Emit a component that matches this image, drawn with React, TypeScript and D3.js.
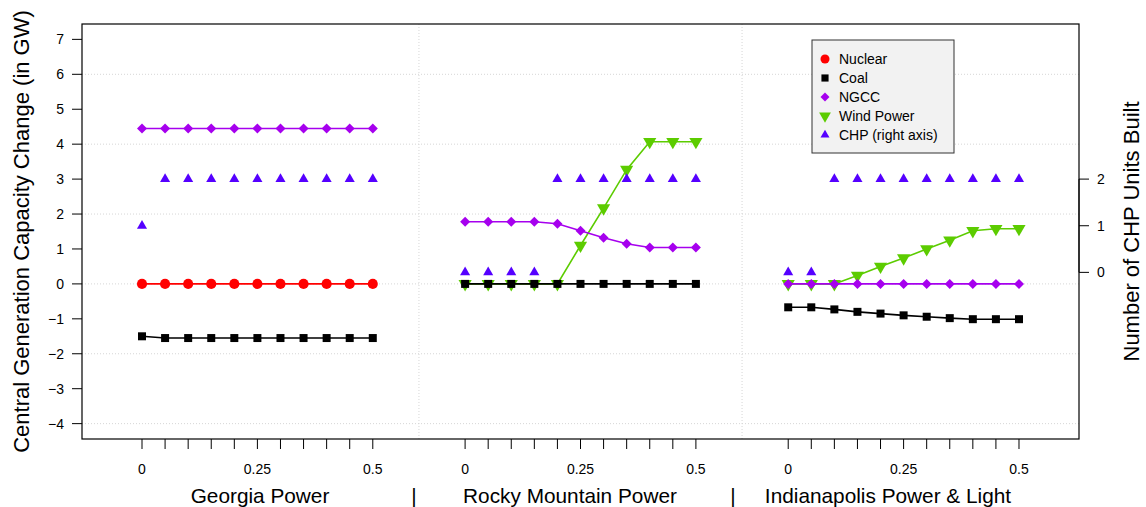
import { useMemo } from "react";
import * as d3 from "d3";

// chart data
const panels = ["Georgia Power", "Rocky Mountain Power", "Indianapolis Power & Light"];
const steps = [0, 0.05, 0.1, 0.15, 0.2, 0.25, 0.3, 0.35, 0.4, 0.45, 0.5];
const stepLabels = ["0", "0.25", "0.5"];
const leftTicks = [-4, -3, -2, -1, 0, 1, 2, 3, 4, 5, 6, 7];
const gridTicks = [-4, -2, 0, 2, 4, 6];
const rightTicks = [0, 1, 2];

const nuclear = [
  [0, 0, 0, 0, 0, 0, 0, 0, 0, 0, 0],
  null,
  null,
];
const coal = [
  [-1.5, -1.55, -1.55, -1.55, -1.55, -1.55, -1.55, -1.55, -1.55, -1.55, -1.55],
  [0, 0, 0, 0, 0, 0, 0, 0, 0, 0, 0],
  [-0.67, -0.67, -0.73, -0.8, -0.85, -0.9, -0.94, -0.98, -1.01, -1.01, -1.01],
];
const ngcc = [
  [4.45, 4.45, 4.45, 4.45, 4.45, 4.45, 4.45, 4.45, 4.45, 4.45, 4.45],
  [1.78, 1.78, 1.78, 1.78, 1.72, 1.52, 1.32, 1.15, 1.04, 1.04, 1.04],
  [0, 0, 0, 0, 0, 0, 0, 0, 0, 0, 0],
];
const wind = [
  null,
  [0, 0, 0, 0, 0, 1.1, 2.17, 3.27, 4.07, 4.07, 4.07],
  [0, 0, 0, 0.24, 0.5, 0.74, 1.0, 1.25, 1.52, 1.58, 1.58],
];
const chp = [
  [1, 2, 2, 2, 2, 2, 2, 2, 2, 2, 2],
  [0, 0, 0, 0, 2, 2, 2, 2, 2, 2, 2],
  [0, 0, 2, 2, 2, 2, 2, 2, 2, 2, 2],
];

const W = 1146;
const H = 507;
const left = 82;
const right = 1079;
const top = 24;
const bottom = 439;
const font = "'Liberation Sans', Arial, sans-serif";

const x = d3.scaleLinear().domain([-1.6, 41.6]).range([left, right]);
const y = d3.scaleLinear().domain([-4.44, 7.44]).range([bottom, top]);
// right axis: CHP units
const yR = d3.scaleLinear().domain([0, 2]).range([y(0.33), y(3)]);

const idx = (p: number, i: number) => p * 14 + i + 1;

const series = [
  { name: "Nuclear", data: nuclear, color: "#ff0000", shape: d3.symbolCircle, size: 80, rot: 0, line: true, right: false, z: 1 },
  { name: "Coal", data: coal, color: "#000000", shape: d3.symbolSquare, size: 64, rot: 0, line: true, right: false, z: 2 },
  { name: "NGCC", data: ngcc, color: "#a600ee", shape: d3.symbolSquare, size: 50, rot: 45, line: true, right: false, z: 3 },
  { name: "Wind Power", data: wind, color: "#5ccc00", shape: d3.symbolTriangle, size: 75, rot: 180, line: true, right: false, z: 0 },
  { name: "CHP (right axis)", data: chp, color: "#5500ff", shape: d3.symbolTriangle, size: 44, rot: 0, line: false, right: true, z: 4 },
];

// label centres for the panel names (one R mtext string in the original)
const panelCentre = [260, 570, 888];
const sepX = [414, 733];

export default function App() {
  const marks = useMemo(() => {
    const out: JSX.Element[] = [];
    [...series].sort((a, b) => a.z - b.z).forEach((s) => {
      const sym = d3.symbol().type(s.shape).size(s.size)() as string;
      const sc = s.right ? yR : y;
      s.data.forEach((vals, p) => {
        if (!vals) return;
        const pts: [number, number][] = vals.map((v, i) => [x(idx(p, i)), sc(v)]);
        if (s.line) {
          out.push(
            <path key={`${s.name}-l-${p}`} d={d3.line()(pts) as string} fill="none" stroke={s.color} strokeWidth={1.6} />
          );
        }
        pts.forEach(([px, py], i) => {
          out.push(
            <path key={`${s.name}-m-${p}-${i}`} d={sym} fill={s.color}
              transform={`translate(${px},${py}) rotate(${s.rot})`} />
          );
        });
      });
    });
    return out;
  }, []);

  return (
    <svg width={W} height={H} style={{ position: "absolute", left: 0, top: 0 }} fontFamily={font}>
      <rect width={W} height={H} fill="#fff" />
      {/* grid */}
      {gridTicks.map((t) => (
        <line key={`g${t}`} x1={left} x2={right} y1={y(t)} y2={y(t)} stroke="#d6d6d6" strokeDasharray="1,2" />
      ))}
      {[13, 27].map((t) => (
        <line key={`gv${t}`} x1={x(t)} x2={x(t)} y1={top} y2={bottom} stroke="#d6d6d6" strokeDasharray="1,2" />
      ))}
      {marks}
      <rect x={left} y={top} width={right - left} height={bottom - top} fill="none" stroke="#000" strokeWidth={1.2} />
      {/* left axis */}
      {leftTicks.map((t) => (
        <g key={`l${t}`}>
          <line x1={left - 10} x2={left} y1={y(t)} y2={y(t)} stroke="#000" />
          <text x={64} y={y(t)} dy="0.35em" textAnchor="end" fontSize={14}>
            {t < 0 ? `\u2212${-t}` : t}
          </text>
        </g>
      ))}
      {/* right axis */}
      <line x1={right} x2={right} y1={yR(0)} y2={yR(2)} stroke="#000" />
      {rightTicks.map((t) => (
        <g key={`r${t}`}>
          <line x1={right} x2={right + 10} y1={yR(t)} y2={yR(t)} stroke="#000" />
          <text x={1097} y={yR(t)} dy="0.35em" fontSize={14}>{t}</text>
        </g>
      ))}
      {/* bottom axis */}
      {panels.map((name, p) => (
        <g key={name}>
          {steps.map((s, i) => (
            <line key={i} x1={x(idx(p, i))} x2={x(idx(p, i))} y1={bottom} y2={bottom + 10} stroke="#000" />
          ))}
          {stepLabels.map((lab) => {
            const i = steps.indexOf(+lab);
            return (
              <text key={lab} x={x(idx(p, i))} y={474} textAnchor="middle" fontSize={14}>{lab}</text>
            );
          })}
          <text x={panelCentre[p]} y={503} textAnchor="middle" fontSize={20.8}>{name}</text>
        </g>
      ))}
      {sepX.map((sx) => (
        <text key={sx} x={sx} y={503} textAnchor="middle" fontSize={20.8}>|</text>
      ))}
      {/* axis titles */}
      <text transform={`translate(29,${(top + bottom) / 2}) rotate(-90)`} textAnchor="middle" fontSize={22}>
        Central Generation Capacity Change (in GW)
      </text>
      <text transform={`translate(1139,${(top + bottom) / 2}) rotate(-90)`} textAnchor="middle" fontSize={22}>
        Number of CHP Units Built
      </text>
      {/* legend */}
      <rect x={812} y={40} width={142} height={113} fill="#f2f2f2" stroke="#333" />
      {series.map((s, i) => {
        const sym = d3.symbol().type(s.shape).size(s.size * 0.8)() as string;
        const ly = 59 + i * 19;
        return (
          <g key={`leg${i}`}>
            <path d={sym} fill={s.color} transform={`translate(825,${ly}) rotate(${s.rot})`} />
            <text x={839} y={ly} dy="0.35em" fontSize={14}>{s.name}</text>
          </g>
        );
      })}
    </svg>
  );
}
